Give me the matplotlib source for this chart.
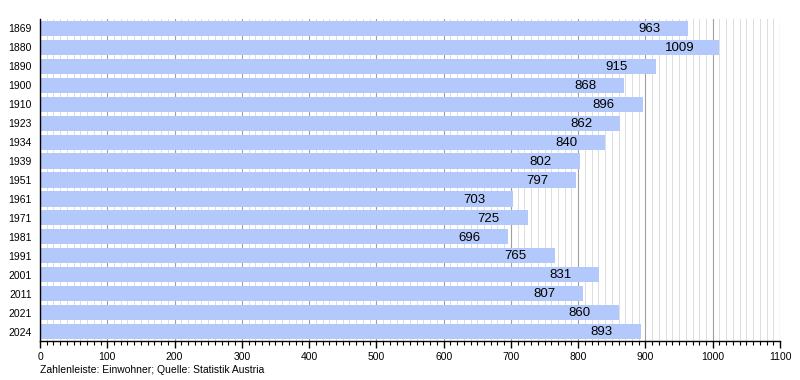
import matplotlib
matplotlib.use("Agg")
import matplotlib.pyplot as plt
from matplotlib.ticker import MultipleLocator

years = ["1869", "1880", "1890", "1900", "1910", "1923", "1934", "1939", "1951",
         "1961", "1971", "1981", "1991", "2001", "2011", "2021", "2024"]
population = [963, 1009, 915, 868, 896, 862, 840, 802, 797,
              703, 725, 696, 765, 831, 807, 860, 893]

plt.rcParams['font.family'] = ['Liberation Sans', 'DejaVu Sans']

fig = plt.figure(figsize=(8, 3.8), dpi=100)
ax = fig.add_axes([0.05, 0.1026, 0.925, 0.8474])

pos = list(range(len(years)))
ax.barh(pos, population, height=0.8, color='#b3c9fc', zorder=3)
ax.set_ylim(len(years) - 0.5, -0.5)
ax.set_xlim(0, 1100)
ax.set_yticks(pos)
ax.set_yticklabels(years, fontsize=7.5)
ax.tick_params(axis='y', which='both', length=0, pad=6)

ax.xaxis.set_major_locator(MultipleLocator(100))
ax.xaxis.set_minor_locator(MultipleLocator(10))
ax.tick_params(axis='x', which='major', length=5, width=1, direction='out', labelsize=7.5, pad=3)
ax.tick_params(axis='x', which='minor', length=3, width=0.8, direction='out')
ax.grid(axis='x', which='major', color='#a0a0a0', linewidth=0.8, zorder=1)
ax.grid(axis='x', which='minor', color='#dddddd', linewidth=0.7, zorder=0)
ax.grid(axis='y', visible=False)

for s in ['top', 'right']:
    ax.spines[s].set_visible(False)
for s in ['left', 'bottom']:
    ax.spines[s].set_linewidth(1)
    ax.spines[s].set_zorder(5)
    ax.spines[s].set_color('black')

for p, v in zip(pos, population):
    ax.annotate(str(v), xy=(v, p), xytext=(-28, -0.5), textcoords='offset points',
                ha='center', va='center', fontsize=9.5, color='#000000', zorder=4)

fig.text(0.05, 0.014, "Zahlenleiste: Einwohner; Quelle: Statistik Austria",
         fontsize=7.5, ha='left', va='bottom')

fig.savefig("out.png", dpi=100)
